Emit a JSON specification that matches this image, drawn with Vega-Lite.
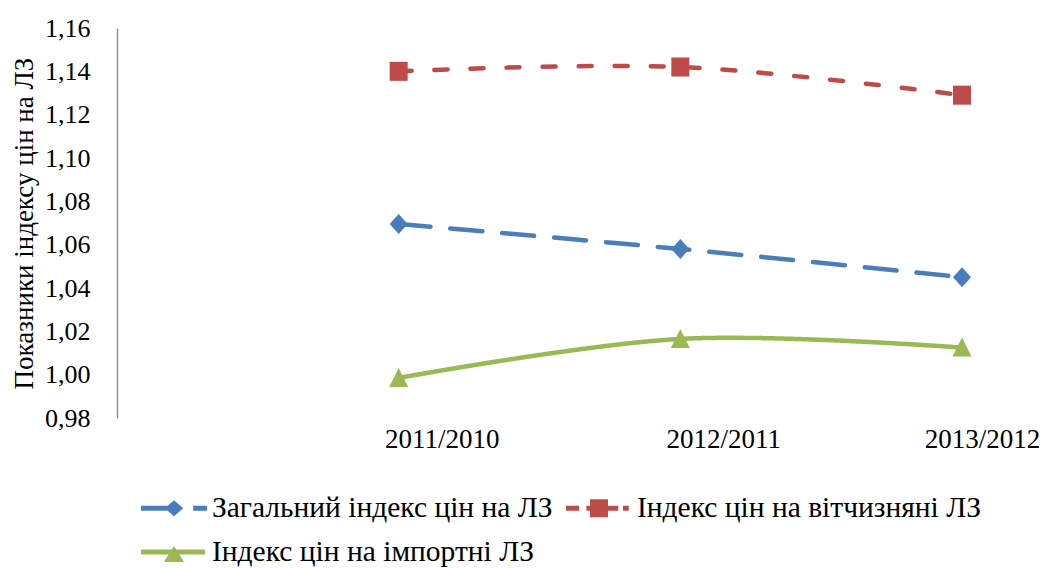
{
  "$schema": "https://vega.github.io/schema/vega-lite/v6.json",
  "autosize": {"type": "none"},
  "width": 845,
  "height": 390,
  "padding": {"left": 117, "top": 28, "right": 82, "bottom": 150},
  "background": "white",
  "config": {
    "view": {"stroke": null},
    "font": "Liberation Serif, 'DejaVu Serif', serif"
  },
  "data": {
    "values": [
      {"period": "2011/2010", "series": "Загальний індекс цін на ЛЗ", "value": 1.0695},
      {"period": "2012/2011", "series": "Загальний індекс цін на ЛЗ", "value": 1.058},
      {"period": "2013/2012", "series": "Загальний індекс цін на ЛЗ", "value": 1.045},
      {"period": "2011/2010", "series": "Індекс цін на вітчизняні ЛЗ", "value": 1.14},
      {"period": "2012/2011", "series": "Індекс цін на вітчизняні ЛЗ", "value": 1.142},
      {"period": "2013/2012", "series": "Індекс цін на вітчизняні ЛЗ", "value": 1.129},
      {"period": "2011/2010", "series": "Індекс цін на імпортні ЛЗ", "value": 0.9985},
      {"period": "2012/2011", "series": "Індекс цін на імпортні ЛЗ", "value": 1.0165},
      {"period": "2013/2012", "series": "Індекс цін на імпортні ЛЗ", "value": 1.0125}
    ]
  },
  "encoding": {
    "x": {
      "field": "period",
      "type": "ordinal",
      "scale": {"type": "point", "domain": ["", "2011/2010", "2012/2011", "2013/2012"], "padding": 0},
      "axis": {
        "title": null,
        "labelAngle": 0,
        "ticks": false,
        "domain": false,
        "labelFont": "Liberation Serif, 'DejaVu Serif', serif",
        "labelFontSize": 27,
        "labelColor": "#000000",
        "labelPadding": 8,
        "labelBaseline": "top",
        "labelOffset": {"condition": {"test": "datum.value === '2013/2012'", "value": 20}, "value": 43}
      }
    },
    "y": {
      "field": "value",
      "type": "quantitative",
      "scale": {"domain": [0.98, 1.16], "nice": false, "zero": false},
      "axis": {
        "title": "Показники індексу цін на ЛЗ",
        "titleFont": "Liberation Serif, 'DejaVu Serif', serif",
        "titleFontSize": 27,
        "titleFontWeight": "normal",
        "titleColor": "#000000",
        "titlePadding": 6,
        "values": [0.98, 1.0, 1.02, 1.04, 1.06, 1.08, 1.1, 1.12, 1.14, 1.16],
        "labelExpr": "replace(format(datum.value, '.2f'), '.', ',')",
        "labelFont": "Liberation Serif, 'DejaVu Serif', serif",
        "labelFontSize": 26,
        "labelColor": "#000000",
        "labelPadding": 27,
        "ticks": false,
        "grid": false,
        "domainColor": "#868686",
        "domainWidth": 1.3
      }
    },
    "color": {
      "field": "series",
      "type": "nominal",
      "scale": {
        "domain": ["Загальний індекс цін на ЛЗ", "Індекс цін на вітчизняні ЛЗ", "Індекс цін на імпортні ЛЗ"],
        "range": ["#4A7EBB", "#BE4B48", "#98B954"]
      },
      "legend": {
        "title": null,
        "orient": "none",
        "legendX": 42,
        "legendY": 465,
        "direction": "horizontal",
        "columns": 2,
        "padding": 0,
        "symbolSize": 900,
        "labelOffset": 23,
        "columnPadding": 13,
        "rowPadding": 14,
        "labelFont": "Liberation Serif, 'DejaVu Serif', serif",
        "labelFontSize": 29.5,
        "labelColor": "#000000",
        "labelLimit": 600,
        "symbolType": "square",
        "encode": {
          "symbols": {
            "update": {
              "shape": {"signal": "datum.value === 'Загальний індекс цін на ЛЗ' ? 'M-2.2,-0.167H0V0.167H-2.2Z M0,-0.53L0.62,0L0,0.53L-0.62,0Z M1.28,-0.167H2.2V0.167H1.28Z' : datum.value === 'Індекс цін на вітчизняні ЛЗ' ? 'M-2.2,-0.167H-1.32V0.167H-2.2Z M-0.84,-0.167H1.28V0.167H-0.84Z M-0.6,-0.6H0.6V0.6H-0.6Z M1.6,-0.167H1.98V0.167H1.6Z' : 'M-2.2,-0.167H2.07V0.167H-2.2Z M0,-0.4L0.67,0.67L-0.67,0.67Z'"},
              "fill": {"signal": "scale('color', datum.value)"},
              "fillOpacity": {"value": 1},
              "opacity": {"value": 1},
              "strokeWidth": {"value": 0},
              "stroke": {"value": "transparent"}
            }
          }
        }
      }
    }
  },
  "layer": [
    {
      "mark": {"type": "line", "interpolate": "catmull-rom", "strokeWidth": 4.5, "strokeCap": "round"},
      "encoding": {
        "strokeDash": {
          "field": "series",
          "type": "nominal",
          "scale": {
            "domain": ["Загальний індекс цін на ЛЗ", "Індекс цін на вітчизняні ЛЗ", "Індекс цін на імпортні ЛЗ"],
            "range": [[32, 20], [13, 23], [1, 0]]
          },
          "legend": null
        }
      }
    },
    {
      "mark": {"type": "point", "filled": true, "size": 100, "opacity": 1, "strokeWidth": 0},
      "encoding": {
        "shape": {
          "condition": [
            {"test": "datum.series === 'Загальний індекс цін на ЛЗ'", "value": "M0,-2L1.8,0L0,2L-1.8,0Z"},
            {"test": "datum.series === 'Індекс цін на вітчизняні ЛЗ'", "value": "M-1.8,-1.9H1.8V1.9H-1.8Z"}
          ],
          "value": "M0,-2L1.9,1.8L-1.9,1.8Z"
        }
      }
    }
  ]
}
